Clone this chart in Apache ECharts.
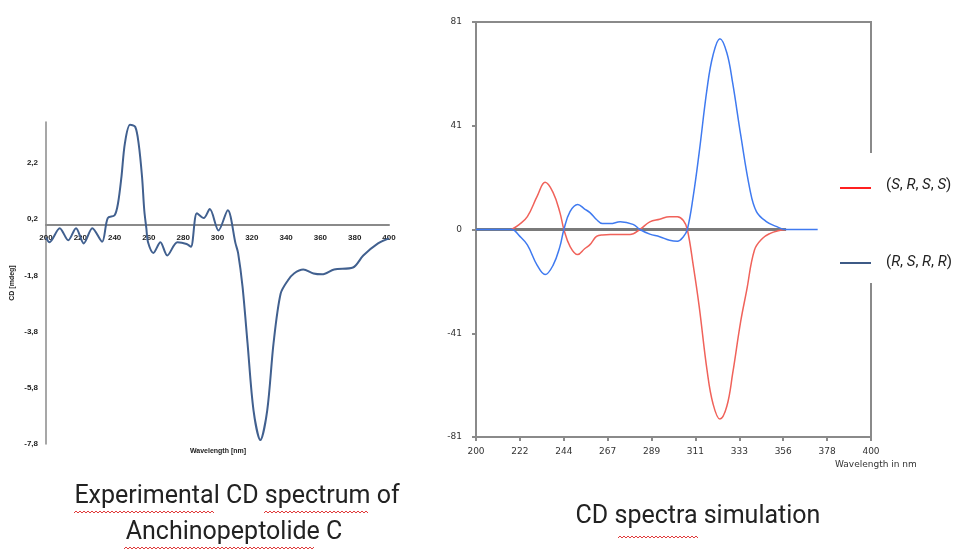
<!DOCTYPE html>
<html lang="en">
<head>
    <meta charset="UTF-8">
    <script src="https://cdn.jsdelivr.net/npm/echarts@6.0.0/dist/echarts.min.js"></script>
    <style>
        html, body { margin: 0; padding: 0; background: #fff; }
        #main { width: 962px; height: 549px; }
    </style>
</head>
<body>
<div id="main"></div>
<script>
    // experimental spectrum (left)
    var expWl = [200, 202, 208, 213, 217.5, 222, 227, 232.7, 236, 240, 242, 244, 246, 249, 252, 254, 256, 257.3, 258.5,
        259.5, 262.6, 266.7, 270.7, 276.6, 282, 284.5, 288, 292, 295.5, 300.6, 306, 310.5, 312, 314.6, 317.5, 321, 325,
        329, 332.7, 336.8, 341, 344.6, 350, 356, 361, 368, 379, 385, 393.6, 400];
    var expCd = [-0.45, -0.62, -0.12, -0.55, -0.12, -0.66, -0.12, -0.6, 0.24, 0.34, 0.77, 1.71, 2.9, 3.56, 3.49, 2.9, 1.71, 0.52, -0.12,
        -0.62, -1.0, -0.62, -1.09, -0.62, -0.68, -0.78, 0.41, 0.24, 0.56, -0.2, 0.52, -0.66, -1.0, -2.2, -4.2, -6.6, -7.66,
        -6.6, -4.2, -2.45, -1.98, -1.73, -1.59, -1.73, -1.76, -1.59, -1.52, -1.09, -0.66, -0.48];
    var yTicksLeft = [-7.8, -5.8, -3.8, -1.8, 0.2, 2.2];

    // simulated spectra (right)
    var simWl = [218, 222, 226, 231, 235, 239, 242.5, 244.5, 247.6, 251.5, 255, 257.7, 261, 264, 268, 273, 278, 283,
        288, 293, 298, 302, 305, 307, 310, 313, 317, 320, 323.5, 327, 330, 334, 337, 341, 345, 349, 353, 357];
    var redSRSS = [0, 2, 5, 13, 18.4, 14.5, 6.6, 0, -6.6, -9.8, -7.5, -5.9, -2.7, -2.1, -2, -2, -2, 0,
        3, 4, 5, 5, 3.5, 0, -14, -30, -55, -68, -74, -69, -56, -36, -24, -8, -3.5, -1.5, -0.5, 0];
    var blueWl = [200, 218, 222, 226, 231, 235, 239, 242.5, 244.5, 247.6, 251.5, 255, 257.7, 261, 264, 268, 273, 279.5, 283,
        288, 293, 298, 302, 305, 307, 310, 313, 317, 320, 323.5, 327, 330, 334, 338.7, 342, 347, 352, 357, 373];
    var blueRSRR = [0, 0, -2.5, -6, -14, -17.6, -14, -6.6, 0, 7, 9.8, 8, 6.6, 3.9, 2.3, 2.3, 3, 2, 0,
        -1.8, -2.8, -4.2, -4.6, -2.8, 0, 13, 30, 55, 68, 74.5, 69, 57, 37, 15.6, 7, 3.1, 1.2, 0, 0];
    var baseWl = [200, 357];
    var xTicksRight = [200, 222, 244, 267, 289, 311, 333, 356, 378, 400];
    var yTicksRight = [-81, -41, 0, 41, 81];

    function pairs(xs, ys) {
        return xs.map(function (x, i) { return [x, ys[i]]; });
    }
    var xPosRight = xTicksRight.map(function (t, i) { return 200 + i * 200 / 9; });
    var yPosRight = yTicksRight.map(function (t, i) { return -81 + i * 40.5; });
    function nearestLabel(pos, labels, v) {
        var best = 0;
        for (var i = 1; i < pos.length; i++) {
            if (Math.abs(pos[i] - v) < Math.abs(pos[best] - v)) best = i;
        }
        return String(labels[best]);
    }

    // red spell-check squiggles under some caption words
    function squiggle(x1, x2, y) {
        var pts = [];
        for (var x = x1, k = 0; x <= x2; x += 2, k++) pts.push([x, y + (k % 2 ? -1 : 1)]);
        return {type: 'polyline', shape: {points: pts}, style: {stroke: '#e03a3a', lineWidth: 1, fill: null}};
    }

    var leftTop = 122, leftH = 322, leftMin = -7.8, leftMax = 3.66;
    // lift the x axis up to the zero level of the left chart
    var zeroOffset = -leftH * (0 - leftMin) / (leftMax - leftMin);

    var chart = echarts.init(document.getElementById('main'));
    var grey = '#8a8a8a';
    var capFont = 'Roboto';
    var option = {
        animation: false,
        grid: [
            {left: 46, top: leftTop, width: 343, height: leftH},
            {left: 476, top: 22, width: 395, height: 415, show: true, borderColor: grey, borderWidth: 2}
        ],
        xAxis: [
            {
                type: 'value', gridIndex: 0, min: 200, max: 400, interval: 20, position: 'bottom', offset: zeroOffset,
                axisLine: {onZero: false, lineStyle: {color: grey, width: 2}},
                axisTick: {show: false},
                splitLine: {show: false},
                axisLabel: {fontSize: 8, fontWeight: 'bold', color: '#222', margin: 9, fontFamily: 'Liberation Sans'}
            },
            {
                type: 'value', gridIndex: 1, min: 200, max: 400,
                axisLine: {onZero: false, lineStyle: {color: grey, width: 2}},
                axisTick: {show: true, length: 4, customValues: xPosRight, lineStyle: {color: grey, width: 2}},
                splitLine: {show: false},
                axisLabel: {
                    customValues: xPosRight, fontSize: 9, color: '#333', margin: 10, fontFamily: 'DejaVu Sans',
                    formatter: function (v) { return nearestLabel(xPosRight, xTicksRight, v); }
                }
            }
        ],
        yAxis: [
            {
                type: 'value', gridIndex: 0, min: leftMin, max: leftMax,
                name: 'CD [mdeg]', nameLocation: 'middle', nameGap: 30,
                nameTextStyle: {fontSize: 7, fontWeight: 'bold', color: '#222', fontFamily: 'Liberation Sans'},
                axisLine: {show: true, onZero: false, lineStyle: {color: grey, width: 1.5}},
                axisTick: {show: false},
                splitLine: {show: false},
                axisLabel: {
                    customValues: yTicksLeft, fontSize: 8, fontWeight: 'bold', color: '#222', margin: 8,
                    fontFamily: 'Liberation Sans',
                    formatter: function (v) { return v.toFixed(1).replace('.', ','); }
                }
            },
            {
                type: 'value', gridIndex: 1, min: -81, max: 81,
                axisLine: {show: true, onZero: false, lineStyle: {color: grey, width: 2}},
                axisTick: {show: true, length: 4, customValues: yPosRight, lineStyle: {color: grey, width: 2}},
                splitLine: {show: false},
                axisLabel: {
                    customValues: yPosRight, fontSize: 9, color: '#333', margin: 14, fontFamily: 'DejaVu Sans',
                    formatter: function (v) { return nearestLabel(yPosRight, yTicksRight, v); }
                }
            }
        ],
        series: [
            {
                type: 'line', xAxisIndex: 0, yAxisIndex: 0, data: pairs(expWl, expCd),
                smooth: 0.3, showSymbol: false, lineStyle: {color: '#41608f', width: 2}
            },
            {
                type: 'line', xAxisIndex: 1, yAxisIndex: 1, data: baseWl.map(function (x) { return [x, 0]; }),
                showSymbol: false, lineStyle: {color: '#7a7a7a', width: 3}
            },
            {
                type: 'line', xAxisIndex: 1, yAxisIndex: 1, data: pairs(simWl, redSRSS),
                smooth: 0.4, showSymbol: false, lineStyle: {color: '#f0625a', width: 1.5}
            },
            {
                type: 'line', xAxisIndex: 1, yAxisIndex: 1, data: pairs(blueWl, blueRSRR),
                smooth: 0.4, showSymbol: false, lineStyle: {color: '#3f7af0', width: 1.5}
            }
        ],
        graphic: [
            // legend box hides part of the right frame
            {type: 'rect', z: 100, shape: {x: 862, y: 153, width: 16, height: 130}, style: {fill: '#fff'}},
            {type: 'line', z: 101, shape: {x1: 840, y1: 188, x2: 871, y2: 188}, style: {stroke: '#ff2020', lineWidth: 2}},
            {type: 'line', z: 101, shape: {x1: 840, y1: 263, x2: 871, y2: 263}, style: {stroke: '#3d5a86', lineWidth: 2}},
            {
                type: 'text', z: 101, x: 886, y: 185,
                style: {
                    text: '({i|S}, {i|R}, {i|S}, {i|S})', fontSize: 15, fill: '#222', fontFamily: capFont,
                    verticalAlign: 'middle',
                    rich: {i: {fontStyle: 'italic', fontSize: 15, fontFamily: capFont}}
                }
            },
            {
                type: 'text', z: 101, x: 886, y: 262,
                style: {
                    text: '({i|R}, {i|S}, {i|R}, {i|R})', fontSize: 15, fill: '#222', fontFamily: capFont,
                    verticalAlign: 'middle',
                    rich: {i: {fontStyle: 'italic', fontSize: 15, fontFamily: capFont}}
                }
            },
            {
                type: 'text', x: 835, y: 465,
                style: {text: 'Wavelength in nm', fontSize: 9, fill: '#333', fontFamily: 'DejaVu Sans', verticalAlign: 'middle'}
            },
            {
                type: 'text', x: 218, y: 451,
                style: {text: 'Wavelength [nm]', fontSize: 7, fontWeight: 'bold', fill: '#222', fontFamily: 'Liberation Sans', align: 'center', verticalAlign: 'middle'}
            },
            // captions
            {
                type: 'text', x: 237, y: 497,
                style: {text: 'Experimental CD spectrum of', fontSize: 25, fill: '#222', fontFamily: capFont, align: 'center', verticalAlign: 'middle'}
            },
            {
                type: 'text', x: 234, y: 533,
                style: {text: 'Anchinopeptolide C', fontSize: 25, fill: '#222', fontFamily: capFont, align: 'center', verticalAlign: 'middle'}
            },
            {
                type: 'text', x: 698, y: 517,
                style: {text: 'CD spectra simulation', fontSize: 25, fill: '#222', fontFamily: capFont, align: 'center', verticalAlign: 'middle'}
            },
            squiggle(74, 214, 512),
            squiggle(264, 368, 512),
            squiggle(124, 314, 548),
            squiggle(618, 698, 537)
        ]
    };
    chart.setOption(option);
</script>
</body>
</html>
